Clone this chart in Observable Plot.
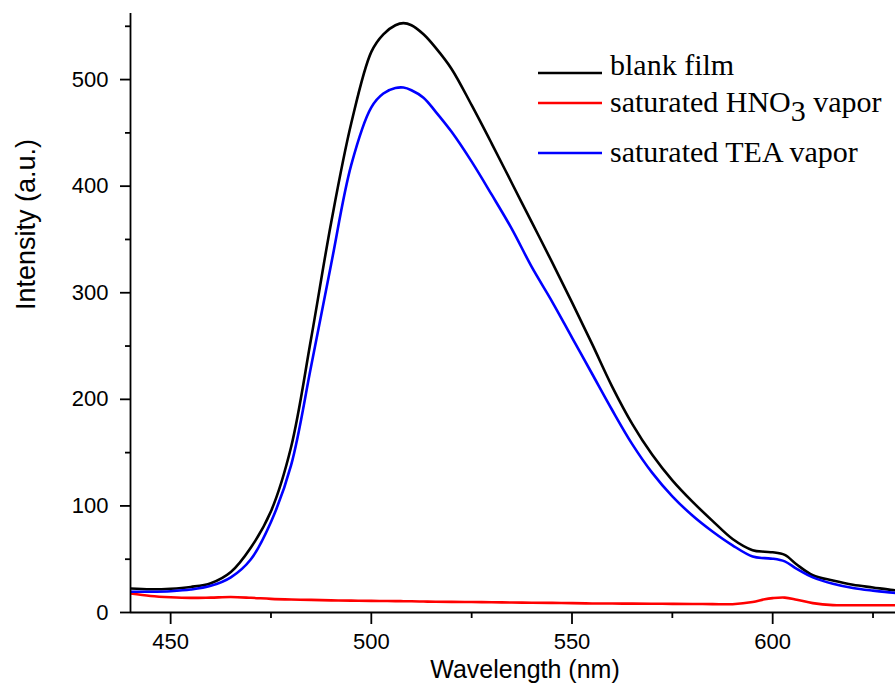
<!DOCTYPE html>
<html>
<head>
<meta charset="utf-8">
<script src="https://cdn.jsdelivr.net/npm/d3@7"></script>
<script src="https://cdn.jsdelivr.net/npm/@observablehq/plot@0.6"></script>
<style>
  html, body { margin: 0; padding: 0; background: #fff; }
</style>
</head>
<body>
<div id="chart"></div>
<script>
// ---- data ----
const wavelength = [440,445,450,455,460,465,470,475,480,485,490,495,500,503,506,508,510,513,516,520,525,530,535,540,545,550,555,560,565,570,575,580,585,590,595,598,600,603,606,610,615,620,625,630,635];
const blankFilm = [22.5,21.8,22.3,24,27.5,38,61,95,155,257,366,459,526,542.5,551,553,551,542.5,530,510,476,440,403,366,329,291,252,212,177,148,124,104,86,69,58.5,57,56.5,54,45,35,30,26,23.5,21,20];
const hno3Vapor = [17.8,15.5,14.3,13.7,14,14.5,13.8,12.8,12.2,11.8,11.4,11.1,10.9,10.8,10.7,10.6,10.5,10.3,10.1,10,9.8,9.6,9.4,9.2,9,8.8,8.5,8.4,8.3,8.2,8.1,8,7.9,7.8,9.8,12.5,13.5,14,12,8.8,6.9,6.8,6.8,6.8,6.8];
const teaVapor  = [19.5,19.5,20,21.5,25,33,50,85,138,231,327,420,474,487,492,492.5,490,483,470,451,423,392,360,324,292,258,224,190,158,131,109,91,76,63,52.5,51,50.5,48,41,33,27,23,20.5,18.5,17.5];

const seriesNames  = ["blank film", "saturated HNO3 vapor", "saturated TEA vapor"];
const seriesColors = ["#000000", "#ff0000", "#0000ff"];
const seriesValues = [blankFilm, hno3Vapor, teaVapor];

const xMajorTicks = [450, 500, 550, 600];
const xMinorTicks = [475, 525, 575, 625];
const yMajorTicks = [0, 100, 200, 300, 400, 500];
const yMinorTicks = [50, 150, 250, 350, 450, 550];
const xDomain = [440, 630.6];
const yDomain = [0, 562];
const xTitle = "Wavelength (nm)";
const yTitle = "Intensity (a.u.)";

const rows = [];
seriesNames.forEach((name, s) => {
  wavelength.forEach((w, i) => rows.push({series: name, x: w, y: seriesValues[s][i]}));
});

const tickFont = "'Liberation Sans', Arial, sans-serif";

const chart = Plot.plot({
  width: 895,
  height: 688,
  marginLeft: 130,
  marginRight: 0,
  marginTop: 13,
  marginBottom: 76,
  x: {domain: xDomain},
  y: {domain: yDomain},
  color: {domain: seriesNames, range: seriesColors},
  style: {fontFamily: tickFont, color: "#000", background: "#fff", overflow: "visible"},
  marks: [
    Plot.line(rows, {
      x: "x", y: "y", z: "series", stroke: "series",
      strokeWidth: 2.6, curve: "catmull-rom", clip: true
    }),
    Plot.ruleX([xDomain[0]], {stroke: "#000", strokeWidth: 1.8}),
    Plot.ruleY([yDomain[0]], {stroke: "#000", strokeWidth: 1.8}),
    Plot.axisX({anchor: "bottom", ticks: xMajorTicks, tickSize: 12, tickPadding: 9, fontSize: 22, label: null, strokeWidth: 1.8}),
    Plot.axisX({anchor: "bottom", ticks: xMinorTicks, tickSize: 6, tickFormat: () => "", label: null, strokeWidth: 1.8}),
    Plot.axisY({anchor: "left", ticks: yMajorTicks, tickSize: 10, tickPadding: 12, fontSize: 22, label: null, strokeWidth: 1.8}),
    Plot.axisY({anchor: "left", ticks: yMinorTicks, tickSize: 5, tickFormat: () => "", label: null, strokeWidth: 1.8}),
    Plot.text([xTitle], {frameAnchor: "bottom", dx: 12, dy: 65, fontSize: 25, fill: "#000", lineAnchor: "bottom"}),
    Plot.text([yTitle], {frameAnchor: "left", dx: -96, dy: -3, rotate: -90, fontSize: 27, fill: "#000", lineAnchor: "bottom"})
  ]
});

document.getElementById("chart").appendChild(chart);

// ---- legend (in-plot, top right) ----
const svg = d3.select(chart);
const legendFont = "'Liberation Serif', 'Times New Roman', serif";
const legendRows = [
  {lineY: 73, baseY: 75},
  {lineY: 103, baseY: 112},
  {lineY: 153, baseY: 162}
];
const lg = svg.append("g")
  .attr("font-family", legendFont)
  .attr("font-size", 30)
  .attr("text-anchor", "start")
  .attr("fill", "#000");
seriesNames.forEach((name, i) => {
  const r = legendRows[i];
  lg.append("line")
    .attr("x1", 538).attr("x2", 602)
    .attr("y1", r.lineY).attr("y2", r.lineY)
    .attr("stroke", seriesColors[i]).attr("stroke-width", 2.6);
  const t = lg.append("text").attr("x", 610).attr("y", r.baseY).attr("text-anchor", "start");
  const m = name.match(/^(.*HNO)(3)(.*)$/);
  if (m) {
    t.append("tspan").text(m[1]);
    t.append("tspan").attr("dy", 9).text(m[2]);
    t.append("tspan").attr("dy", -9).text(m[3]);
  } else {
    t.text(name);
  }
});
</script>
</body>
</html>
